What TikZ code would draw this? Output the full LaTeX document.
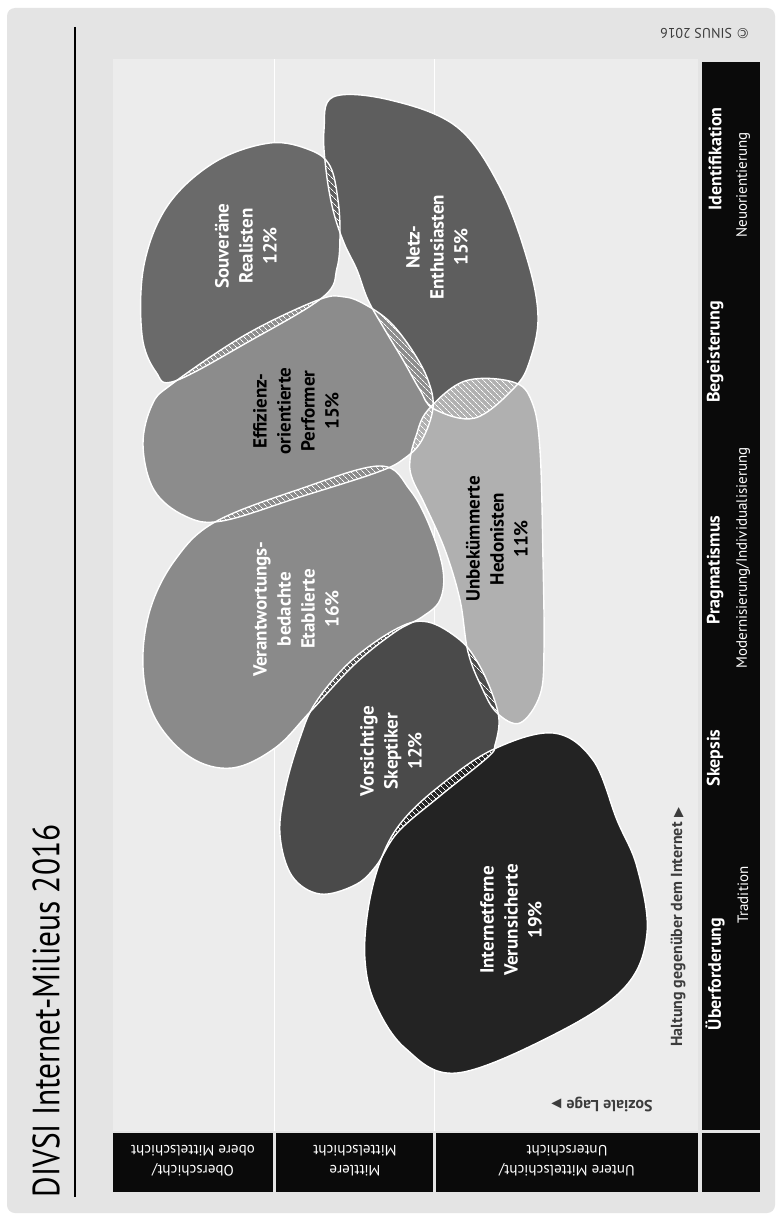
\documentclass[tikz,border=0pt]{standalone}
\usepackage{fontspec}
\setmainfont{PT Sans}
\newfontfamily\dejavu{DejaVu Sans}
\usetikzlibrary{patterns.meta}

\definecolor{bgOuter}{HTML}{E4E4E4}
\definecolor{bgInner}{HTML}{ECECEC}
\definecolor{cS}{HTML}{6A6A6A}
\definecolor{cN}{HTML}{5E5E5E}
\definecolor{cE}{HTML}{8C8C8C}
\definecolor{cV}{HTML}{8A8A8A}
\definecolor{cU}{HTML}{B0B0B0}
\definecolor{cVo}{HTML}{4A4A4A}
\definecolor{cI}{HTML}{232323}
\definecolor{axisgray}{HTML}{3C3C3C}
\definecolor{barblack}{HTML}{0A0A0A}

\def\pS{plot[smooth cycle, tension=0.6] coordinates {(270,143) (310,150) (330,166) (338,200) (340,235) (337,268) (323,297) (248,342) (175,381) (156,372) (142,335) (144,265) (168,205) (215,162)}}
\def\pE{plot[smooth cycle, tension=0.6] coordinates {(172,384) (245,335) (318,300) (345,297) (366,305) (390,322) (412,350) (428,380) (433,408) (422,440) (405,458) (378,472) (300,497) (222,521) (185,516) (154,490) (143,445) (152,405)}}
\def\pN{plot[smooth cycle, tension=0.6] coordinates {(333,97) (390,100) (457,127) (500,187) (528,262) (538,317) (530,360) (515,387) (475,418) (434,409) (420,390) (403,360) (385,330) (368,300) (357,270) (344,243) (333,210) (326,170) (324,130)}}
\def\pU{plot[smooth cycle, tension=0.6] coordinates {(428,410) (465,381) (513,382) (532,402) (540,450) (543,560) (544,650) (540,695) (520,723) (497,713) (482,688) (468,652) (460,600) (445,550) (425,505) (412,478) (410,460) (416,436)}}
\def\pV{plot[smooth cycle, tension=0.6] coordinates {(215,522) (300,489) (380,466) (410,490) (430,527) (443,570) (440,600) (422,617) (395,632) (355,664) (310,712) (275,748) (232,768) (190,757) (155,718) (143,667) (150,610) (175,560)}}
\def\pVo{plot[smooth cycle, tension=0.6] coordinates {(428,622) (460,640) (478,663) (492,693) (499,720) (495,745) (488,757) (440,796) (398,832) (376,866) (355,885) (320,894) (292,876) (280,835) (285,790) (300,738) (316,702) (352,660) (398,628)}}
\def\pI{plot[smooth cycle, tension=0.6] coordinates {(553,733) (593,760) (617,820) (637,867) (647,933) (625,987) (557,1033) (457,1073) (405,1048) (375,1003) (365,960) (368,910) (380,862) (400,824) (437,788) (492,750)}}

\newcommand{\hatchpair}[2]{\begin{scope}\clip #1; \fill[hatch] #2; \end{scope}}

\begin{document}
\begin{tikzpicture}[x=1pt,y=-1pt,
  hatch/.style={pattern={Lines[angle=-45,distance=4pt,line width=0.8pt]},pattern color=white},
  blobline/.style={draw=white,line width=1.4pt},
  blobtext/.style={font=\bfseries\fontsize{19}{24}\selectfont,align=center,rotate=90,inner sep=0pt},
  colhead/.style={font=\bfseries\fontsize{18}{20}\selectfont,text=white,rotate=90,inner sep=0pt},
  colsub/.style={font=\fontsize{15}{17}\selectfont,text=white,rotate=90,inner sep=0pt},
  rowlabel/.style={font=\fontsize{15}{20}\selectfont,text=white,align=center,rotate=180,inner sep=0pt},
  axislabel/.style={font=\bfseries\fontsize{16}{18}\selectfont,text=axisgray,inner sep=0pt},
  blackbox/.style={fill=barblack,draw=none}
]
\useasboundingbox (0,0) rectangle (780,1215);
\fill[white] (0,0) rectangle (780,1215);
\fill[bgOuter,rounded corners=8pt] (7,8) rectangle (775,1213);
\fill[bgInner] (113,59) rectangle (698,1131);

% title
\node[rotate=90,inner sep=0pt] (title) at (46,1011) {\resizebox{373pt}{27pt}{DIVSI Internet-Milieus 2016}};
\draw[black,line width=1.2pt] (75,27) -- (75,1197);

% copyright
\node[rotate=180,font=\fontsize{14}{16}\selectfont,text=axisgray,inner sep=0pt] (copy) at (705,33) {{\dejavu ©} SINUS 2016};

% row dividers
\draw[white,line width=1.5pt] (274.5,59) -- (274.5,1131);
\draw[white,line width=1.5pt] (434.5,59) -- (434.5,1131);

% black bars
\fill[blackbox] (702,62) rectangle (760,1130);
\fill[blackbox] (702,1133) rectangle (760,1192);
\fill[blackbox] (113,1133) rectangle (273,1192);
\fill[blackbox] (276,1133) rectangle (433,1192);
\fill[blackbox] (436,1133) rectangle (698,1192);

% column labels
\node[colhead] (c1) at (715,974) {Überforderung};
\node[colsub] (c1s) at (743,895) {Tradition};
\node[colhead] (c2) at (715,758) {Skepsis};
\node[colhead] (c3) at (715,570) {Pragmatismus};
\node[colsub] (c3s) at (743,558) {Modernisierung/Individualisierung};
\node[colhead] (c4) at (715,352) {Begeisterung};
\node[colhead] (c5) at (715,159) {Identifikation};
\node[colsub] (c5s) at (743,185) {Neuorientierung};

% row labels
\node[rowlabel] (r1) at (193,1161) {Oberschicht/\\obere Mittelschicht};
\node[rowlabel] (r2) at (355,1161) {Mittlere\\Mittelschicht};
\node[rowlabel] (r3) at (567,1161) {Untere Mittelschicht/\\Unterschicht};

% axis labels
\node[axislabel,rotate=90] (ax1) at (678,927) {Haltung gegenüber dem Internet\hspace{5pt}{\dejavu\fontsize{13}{13}\selectfont ▶}};
\node[axislabel,rotate=180] (ax2) at (602,1105) {Soziale Lage\hspace{5pt}{\dejavu\fontsize{13}{13}\selectfont ▶}};

% blobs fill
\fill[cS] \pS;
\fill[cN] \pN;
\fill[cE] \pE;
\fill[cV] \pV;
\fill[cU] \pU;
\fill[cVo] \pVo;
\fill[cI] \pI;

% hatched overlaps
\hatchpair{\pS}{\pE}
\hatchpair{\pS}{\pN}
\hatchpair{\pE}{\pN}
\hatchpair{\pN}{\pU}
\hatchpair{\pE}{\pU}
\hatchpair{\pE}{\pV}
\hatchpair{\pV}{\pVo}
\hatchpair{\pVo}{\pU}
\hatchpair{\pVo}{\pI}

% outlines
\draw[blobline] \pS;
\draw[blobline] \pN;
\draw[blobline] \pE;
\draw[blobline] \pV;
\draw[blobline] \pU;
\draw[blobline] \pVo;
\draw[blobline] \pI;

% blob texts
\node[blobtext,text=white] (tS) at (246,246) {Souveräne\\Realisten\\12\%};
\node[blobtext,text=white] (tN) at (437,247) {Netz-\\Enthusiasten\\15\%};
\node[blobtext,text=black] (tE) at (296,411) {Effizienz-\\orientierte\\Performer\\15\%};
\node[blobtext,text=white] (tV) at (296,609) {Verantwortungs-\\bedachte\\Etablierte\\16\%};
\node[blobtext,text=black] (tU) at (497,539) {Unbekümmerte\\Hedonisten\\11\%};
\node[blobtext,text=white] (tVo) at (391,751) {Vorsichtige\\Skeptiker\\12\%};
\node[blobtext,text=white] (tI) at (511,920) {Internetferne\\Verunsicherte\\19\%};
\end{tikzpicture}
\end{document}
